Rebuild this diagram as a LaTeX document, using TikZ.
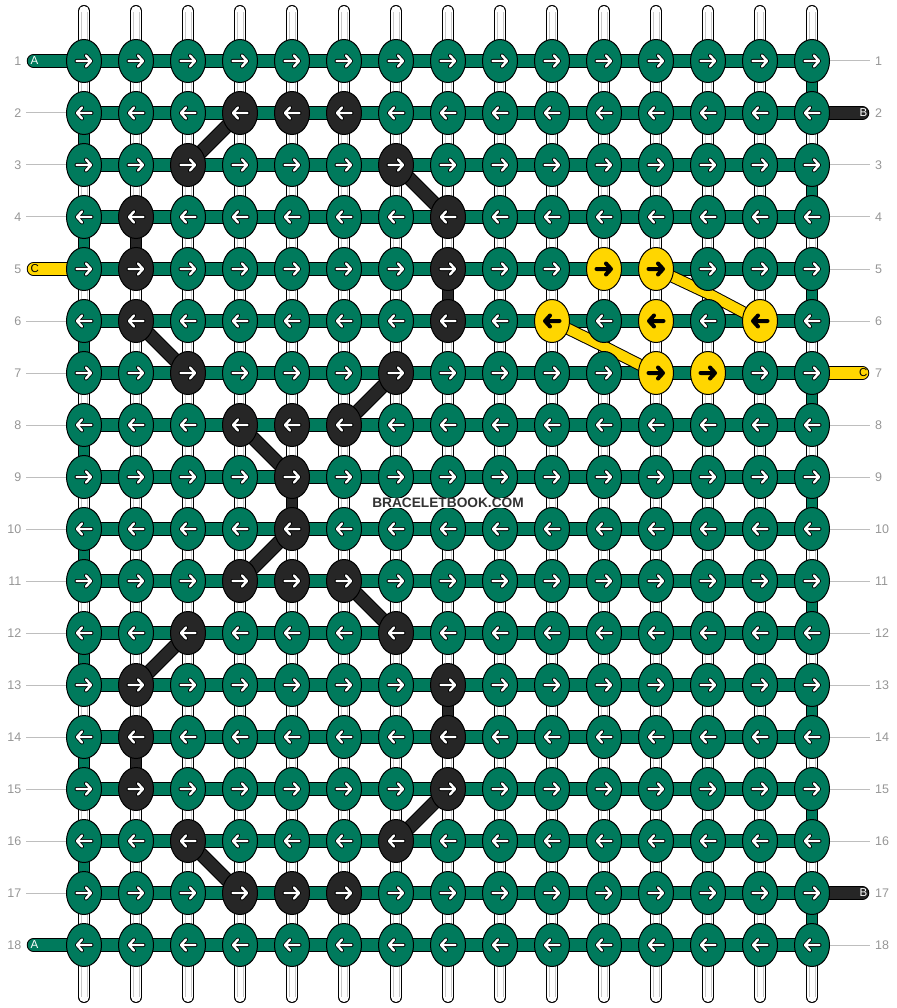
\documentclass[tikz,border=0pt]{standalone}
\usepackage{fontspec}
\setmainfont{Liberation Sans}
\usetikzlibrary{shapes.geometric}
\pgfdeclarelayer{strings}
\pgfdeclarelayer{bars}
\pgfsetlayers{strings,bars,main}
\definecolor{bbgreen}{RGB}{0,122,92}
\definecolor{bbdark}{RGB}{38,38,38}
\definecolor{bbyellow}{RGB}{255,214,0}
\definecolor{rowgray}{RGB}{150,150,150}
\definecolor{linegray}{RGB}{190,190,190}
\definecolor{strgray}{RGB}{200,200,200}
\tikzset{
  knot/.style={ellipse, draw=black, line width=1pt, minimum width=35pt, minimum height=43pt, inner sep=0pt},
  rownum/.style={text=rowgray, font=\fontsize{12.5}{14}\selectfont, inner sep=0pt},
  tailletter/.style={font=\fontsize{11.5}{12}\selectfont, inner sep=0pt},
  rowline/.style={draw=linegray, line width=1pt},
  pics/arr/.style={code={
    \draw[black, line width=4pt, line cap=round, line join=round] (-7.5,0) -- (7,0) (2,-5.5) -- (7,0) -- (2,5.5);
    \draw[#1, line width=2.4pt, line cap=round, line join=round] (-7.5,0) -- (7,0) (2,-5.5) -- (7,0) -- (2,5.5);
  }}
}
\newcommand\dbar[4]{\draw[black,line width=#3]#4;\draw[#1,line width=#2]#4;}
\newcommand\dcapbar[4]{\draw[black,line width=#3,line cap=round]#4;\draw[#1,line width=#2,line cap=round]#4;}
\begin{document}
\begin{tikzpicture}[x=1pt,y=-1pt]
\useasboundingbox (0,0) rectangle (896,1008);
% colour marks
\foreach \r/\c in {2/4,2/5,2/6,3/3,3/7,4/2,4/8,5/2,5/8,6/2,6/8,7/3,7/7,8/4,8/5,8/6,9/5,10/5,11/4,11/5,11/6,12/3,12/7,13/2,13/8,14/2,14/8,15/2,15/8,16/3,16/7,17/4,17/5,17/6}
  {\expandafter\gdef\csname nc-\r-\c\endcsname{bbdark}}
\foreach \r/\c in {5/11,5/12,6/10,6/12,6/14,7/12,7/13}
  {\expandafter\gdef\csname nc-\r-\c\endcsname{bbyellow}\expandafter\gdef\csname ac-\r-\c\endcsname{black}}
% knots
\foreach \r in {1,...,18}{
  \foreach \c in {1,...,15}{
    \ifcsname nc-\r-\c\endcsname \edef\kf{\csname nc-\r-\c\endcsname}\else\def\kf{bbgreen}\fi
    \ifcsname ac-\r-\c\endcsname \def\arrc{black}\else\def\arrc{white}\fi
    \ifodd\r\relax \def\arrdir{1}\else\def\arrdir{-1}\fi
    \node[knot, fill=\kf] (n-\r-\c) at ({84+52*(\c-1)},{61+52*(\r-1)}) {};
    \pic[xscale=\arrdir] at (n-\r-\c) {arr=\arrc};
  }
}
% vertical strings
\begin{pgfonlayer}{strings}
\foreach \c in {1,...,15}{
  \coordinate (top-\c) at ({84+52*(\c-1)},11);
  \coordinate (bot-\c) at ({84+52*(\c-1)},997);
  \draw[black, line width=12pt, line cap=round] (top-\c) -- (bot-\c);
  \draw[white, line width=10pt, line cap=round] (top-\c) -- (bot-\c);
  \draw[strgray, line width=0.9pt] ([shift={(-3,1)}]top-\c) -- ([shift={(-3,0)}]bot-\c);
  \draw[strgray, line width=0.9pt] ([shift={(3,1)}]top-\c) -- ([shift={(3,0)}]bot-\c);
}
\end{pgfonlayer}
\begin{pgfonlayer}{bars}
% edge links
\foreach \a/\b in {2/3,4/5,6/7,8/9,10/11,12/13,14/15,16/17}
  {\dbar{bbgreen}{10pt}{12pt}{(n-\a-1.center) -- (n-\b-1.center)}}
\foreach \a/\b in {1/2,3/4,5/6,7/8,9/10,11/12,13/14,15/16,17/18}
  {\dbar{bbgreen}{10pt}{12pt}{(n-\a-15.center) -- (n-\b-15.center)}}
\foreach \a/\b/\c in {4/5/2,5/6/8,9/10/5,13/14/8,14/15/2}
  {\dbar{bbdark}{10pt}{12pt}{(n-\a-\c.center) -- (n-\b-\c.center)}}
% horizontal bars
\foreach \r in {1,...,18}
  {\dbar{bbgreen}{11.5pt}{13.5pt}{(n-\r-1.center) -- (n-\r-15.center)}}
% diagonal dark bars
\foreach \a/\p/\b/\q in {2/4/3/3,3/7/4/8,6/2/7/3,7/7/8/6,8/4/9/5,10/5/11/4,11/6/12/7,12/3/13/2,15/8/16/7,16/3/17/4}
  {\dbar{bbdark}{12pt}{14pt}{(n-\a-\p.center) -- (n-\b-\q.center)}}
% yellow bars
\coordinate (yk1) at (707,293);
\coordinate (yk2) at (603,346);
\dbar{bbyellow}{10pt}{12pt}{(n-5-12.center) -- (yk1) -- (n-6-14.center)}
\dbar{bbyellow}{10pt}{12pt}{(n-6-10.center) -- (yk2) -- (n-7-12.center)}
% tails
\foreach \r/\col in {1/bbgreen,5/bbyellow,18/bbgreen}{
  \coordinate (tl-\r) at (33.5,{61+52*(\r-1)});
  \dcapbar{\col}{11.5pt}{13.5pt}{(tl-\r) -- (n-\r-1.center)}
}
\foreach \r/\col in {2/bbdark,7/bbyellow,17/bbdark}{
  \coordinate (tr-\r) at (862.5,{61+52*(\r-1)});
  \dcapbar{\col}{11.5pt}{13.5pt}{(n-\r-15.center) -- (tr-\r)}
}
\end{pgfonlayer}
% tail letters
\foreach \r/\t/\tc in {1/A/white,5/C/black,18/A/white}
  \node[tailletter, text=\tc, anchor=west] (tla-\r) at (30.5,{61+52*(\r-1)}) {\t};
\foreach \r/\t/\tc in {2/B/white,7/C/black,17/B/white}
  \node[tailletter, text=\tc, anchor=east] (tra-\r) at (867.5,{61+52*(\r-1)}) {\t};
% row numbers
\foreach \r in {1,...,18}{
  \node[rownum, anchor=east] (ln-\r) at (21.5,{61+52*(\r-1)}) {\r};
  \node[rownum, anchor=west] (rn-\r) at (875,{61+52*(\r-1)}) {\r};
}
\foreach \r in {2,3,4,6,7,8,9,10,11,12,13,14,15,16,17}{
  \coordinate (lg-\r) at (26,{61+52*(\r-1)});
  \draw[rowline] (lg-\r) -- (n-\r-1.west);
}
\foreach \r in {1,3,4,5,6,8,9,10,11,12,13,14,15,16,18}{
  \coordinate (rg-\r) at (870,{61+52*(\r-1)});
  \draw[rowline] (n-\r-15.east) -- (rg-\r);
}
% watermark
\node[fill=white, inner xsep=1.5pt, inner ysep=0.5pt, text={rgb,255:red,50;green,50;blue,50}, font=\bfseries\fontsize{13.7}{15}\selectfont] (wm) at (448,503) {BRACELETBOOK.COM};
\end{tikzpicture}
\end{document}
